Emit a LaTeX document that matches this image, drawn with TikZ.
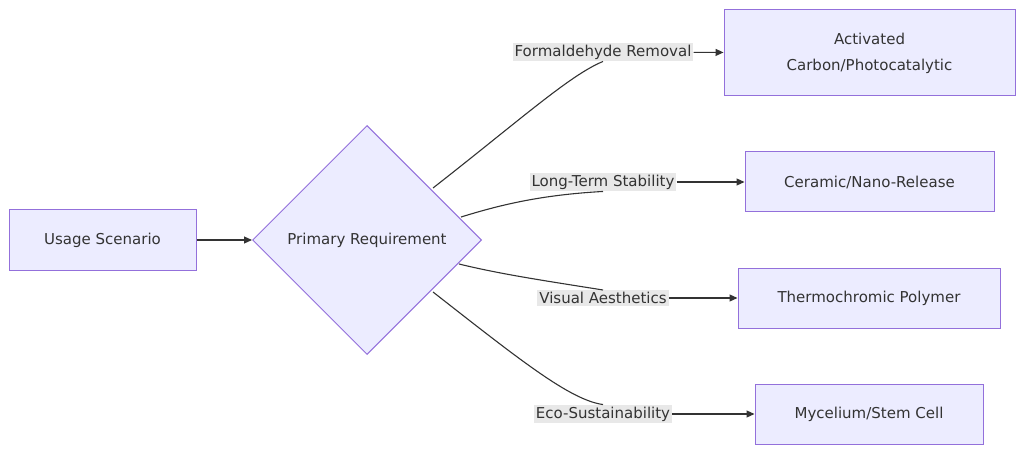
\documentclass[tikz,border=0pt]{standalone}
\usepackage{fontspec}
\setmainfont{DejaVu Sans}
\usetikzlibrary{shapes.geometric,arrows.meta}
\definecolor{nfill}{HTML}{ECECFF}
\definecolor{nline}{HTML}{9370DB}
\definecolor{lbg}{HTML}{E8E8E8}
\definecolor{edge}{HTML}{333333}
\begin{document}
\begin{tikzpicture}[x=1pt,y=-1pt,
  box/.style={draw=nline,fill=nfill,line width=1pt,inner sep=0pt,align=center,font=\fontsize{15}{26}\selectfont,text=black!80},
  lab/.style={fill=lbg,inner sep=2pt,font=\fontsize{15}{18}\selectfont,text=black!80},
  ln/.style={draw=edge,line width=1.1pt},
  arr/.style={ln,-{Triangle[length=8pt,width=7pt]}}]
\useasboundingbox (0,0) rectangle (1024,454);
\node[box,minimum width=187pt,minimum height=60pt] (u) at (102.5,240) {Usage Scenario};
\node[box,diamond,minimum width=229pt,minimum height=229pt,aspect=1] (d) at (367,240) {Primary Requirement};
\node[box,minimum width=291pt,minimum height=86pt] (a) at (869.5,53) {Activated\\Carbon/Photocatalytic};
\node[box,minimum width=249pt,minimum height=60pt] (b) at (869.5,182) {Ceramic/Nano-Release};
\node[box,minimum width=262pt,minimum height=60pt] (c) at (869,298) {Thermochromic Polymer};
\node[box,minimum width=228pt,minimum height=60pt] (e) at (869,414) {Mycelium/Stem Cell};
\node[lab] (la) at (603,52) {Formaldehyde Removal};
\node[lab] (lb) at (603,182) {Long-Term Stability};
\node[lab] (lc) at (603,298) {Visual Aesthetics};
\node[lab] (le) at (603,414) {Eco-Sustainability};
\draw[arr] (u) -- (d.west);
\coordinate (d1) at (433,188);
\coordinate (d2) at (461,217);
\coordinate (d3) at (459,264);
\coordinate (d4) at (433,292);
\draw[ln] (d1) .. controls (520,120) and (570,75) .. (la.south);
\draw[ln] (d2) .. controls (500,205) and (540,195) .. (lb.south);
\draw[ln] (d3) .. controls (500,274) and (540,280) .. (lc.north);
\draw[ln] (d4) .. controls (520,360) and (570,400) .. (le.north);
\draw[arr] (la) -- (a);
\draw[arr] (lb) -- (b);
\draw[arr] (lc) -- (c);
\draw[arr] (le) -- (e);
\end{tikzpicture}
\end{document}
